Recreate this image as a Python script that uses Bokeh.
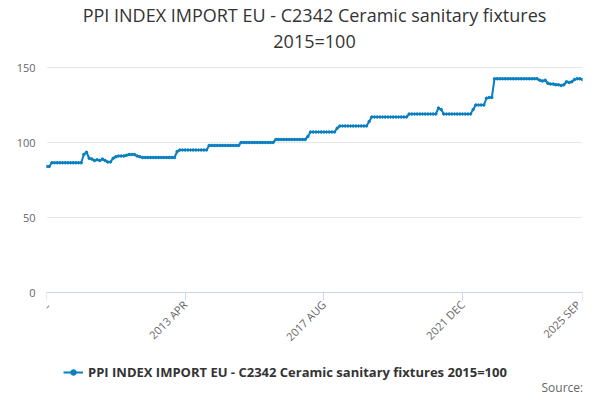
from bokeh.plotting import figure
from bokeh.models import Title, Legend, LegendItem, FixedTicker, Label
from bokeh.embed import file_html
from bokeh.resources import INLINE

series_name = "PPI INDEX IMPORT EU - C2342 Ceramic sanitary fixtures 2015=100"
tick_pos = [0, 52, 104, 156, 201]
tick_labels = ["2008 DEC", "2013 APR", "2017 AUG", "2021 DEC", "2025 SEP"]
values = [84, 84,
 86.5, 86.5, 86.5, 86.5, 86.5, 86.5, 86.5, 86.5, 86.5, 86.5, 86.5, 86.5,
 92, 93.5, 89.5, 89, 88, 88.5, 88, 89, 88, 87, 87, 89.5, 90.5, 91, 91, 91, 91.5, 92, 92, 92, 91, 90.5,
 90, 90, 90, 90, 90, 90, 90, 90, 90, 90, 90, 90, 90,
 94, 95, 95, 95, 95, 95, 95, 95, 95, 95, 95, 95,
 98, 98, 98, 98, 98, 98, 98, 98, 98, 98, 98, 98,
 100, 100, 100, 100, 100, 100, 100, 100, 100, 100, 100, 100, 100,
 102, 102, 102, 102, 102, 102, 102, 102, 102, 102, 102, 102,
 104, 107, 107, 107, 107, 107, 107, 107, 107, 107, 107,
 109.5, 111, 111, 111, 111, 111, 111, 111, 111, 111, 111, 111,
 114, 117, 117, 117, 117, 117, 117, 117, 117, 117, 117, 117, 117, 117, 117,
 119, 119, 119, 119, 119, 119, 119, 119, 119, 119, 119,
 123, 122, 119, 119, 119, 119, 119, 119, 119, 119, 119, 119, 119,
 122, 125, 125, 125, 125,
 129.5, 130, 130,
 142.5, 142.5, 142.5, 142.5, 142.5, 142.5, 142.5, 142.5, 142.5, 142.5, 142.5, 142.5, 142.5, 142.5, 142.5, 142.5, 142.5,
 141.5, 141, 141.5, 139.5, 139, 139, 138.5, 138.5, 138, 138.5, 140.5, 140, 140.5, 142, 142.5, 142.5, 142]
months = list(range(len(values)))

color = "#0a7fc1"
p = figure(frame_width=536, frame_height=344, output_backend="svg", toolbar_location=None,
           x_range=(0, 201), y_range=(-69.3, 160), min_border_left=46, min_border_right=1,
           min_border_top=0, min_border_bottom=0)
p.add_layout(Title(text="2015=100", align="center", text_font_size="18px", standoff=0,
                   text_font="Open Sans", text_font_style="normal", text_color="#333333"), "above")
p.add_layout(Title(text="PPI INDEX IMPORT EU - C2342 Ceramic sanitary fixtures", align="center",
                   text_font_size="18px", text_font="Open Sans", text_font_style="normal", standoff=0,
                   text_color="#333333"), "above")
r1 = p.line(months, values, color=color, line_width=2)
r2 = p.scatter(months, values, color=color, size=2.5)
legend = Legend(items=[LegendItem(label=series_name, renderers=[r1, r2])], location=(17, 15),
                orientation="horizontal", label_text_font="Open Sans", label_text_font_size="13px",
                label_text_font_style="bold", label_text_color="#333333", border_line_color=None,
                background_fill_alpha=0, padding=0, margin=0, label_height=14, glyph_height=14)
p.add_layout(legend)
p.add_layout(Label(x=495, y=1, x_units="screen", y_units="screen", text="Source:",
                   text_font="Open Sans", text_font_size="12px", text_color="#666666"))
p.xaxis.fixed_location = 0
p.xaxis.ticker = FixedTicker(ticks=tick_pos)
p.xaxis.major_label_overrides = {t: l for t, l in zip(tick_pos, tick_labels)}
p.xaxis.major_label_orientation = 0.785
p.xaxis.major_label_standoff = 2
p.xaxis.major_tick_out = 8
p.xaxis.major_tick_in = 0
p.yaxis.ticker = FixedTicker(ticks=[0, 50, 100, 150])
for ax in (p.xaxis, p.yaxis):
    ax.major_label_text_font = "Open Sans"
    ax.major_label_text_font_size = "11px"
    ax.major_label_text_color = "#666666"
    ax.minor_tick_line_color = None
p.yaxis.axis_line_color = None
p.yaxis.major_tick_line_color = None
p.xaxis.axis_line_color = "#ccd6eb"
p.xaxis.major_tick_line_color = "#ccd6eb"
p.xgrid.grid_line_color = None
p.ygrid.grid_line_color = "#e6e6e6"
p.outline_line_color = None
open("out.html", "w").write(file_html(p, INLINE))
